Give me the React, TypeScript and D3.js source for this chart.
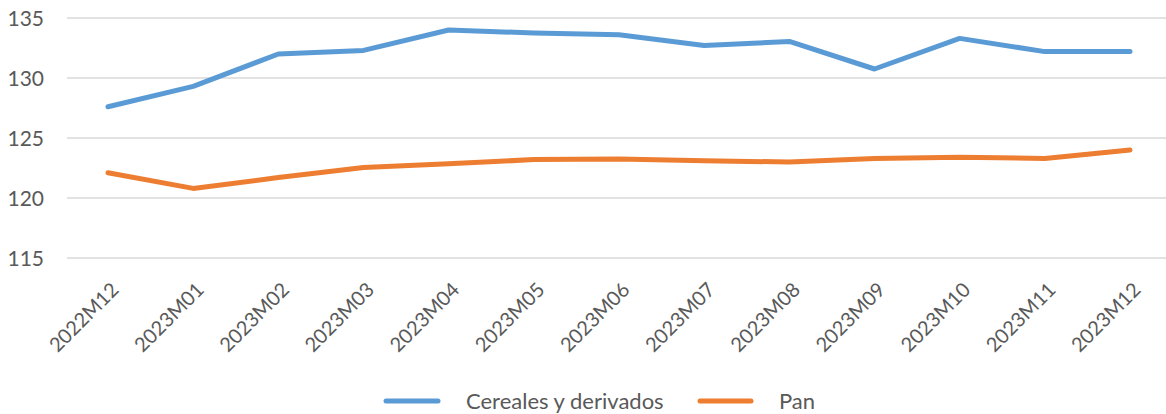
import * as d3 from 'd3';

const months = ['2022M12', '2023M01', '2023M02', '2023M03', '2023M04', '2023M05', '2023M06', '2023M07', '2023M08', '2023M09', '2023M10', '2023M11', '2023M12'];
const cereales = [127.6, 129.3, 132.0, 132.3, 134.0, 133.75, 133.6, 132.7, 133.05, 130.75, 133.3, 132.2, 132.2];
const pan = [122.1, 120.8, 121.7, 122.55, 122.85, 123.2, 123.25, 123.1, 123.0, 123.3, 123.4, 123.3, 124.0];
const yTicks = [115, 120, 125, 130, 135];

const series = [
  { name: 'Cereales y derivados', values: cereales, color: '#5B9BD5' },
  { name: 'Pan', values: pan, color: '#ED7D31' },
];

const W = 1166;
const H = 414;
const font = 'Lato, "Open Sans", sans-serif';

const App = () => {
  const x = d3.scalePoint<string>().domain(months).range([108, 1130]);
  const y = d3.scaleLinear().domain([115, 135]).range([258, 18]);
  const line = d3.line<number>()
    .x((_, i) => x(months[i]) as number)
    .y(d => y(d));

  return (
    <svg width={W} height={H} style={{ position: 'absolute', left: 0, top: 0, fontFamily: font }}>
      {yTicks.map(t => (
        <g key={t}>
          <line x1={67} x2={W} y1={y(t)} y2={y(t)} stroke="#d9d9d9" strokeWidth={1.3} />
          <text x={44} y={y(t)} dy="0.36em" textAnchor="end" fontSize={21} fill="#595959">{t}</text>
        </g>
      ))}
      {series.map(s => (
        <path key={s.name} d={line(s.values) || ''} fill="none" stroke={s.color} strokeWidth={5} strokeLinecap="round" strokeLinejoin="round" />
      ))}
      {months.map(m => (
        <text key={m} transform={`translate(${(x(m) as number) + 12},${291}) rotate(-45)`} textAnchor="end" fontSize={20} fill="#595959">{m}</text>
      ))}
      <g>
        <line x1={386} x2={438} y1={401} y2={401} stroke={series[0].color} strokeWidth={5} strokeLinecap="round" />
        <text x={466} y={401} dy="0.35em" fontSize={22} fill="#595959">{series[0].name}</text>
        <line x1={700} x2={751} y1={401} y2={401} stroke={series[1].color} strokeWidth={5} strokeLinecap="round" />
        <text x={779} y={401} dy="0.35em" fontSize={22} fill="#595959">{series[1].name}</text>
      </g>
    </svg>
  );
};

export default App;
